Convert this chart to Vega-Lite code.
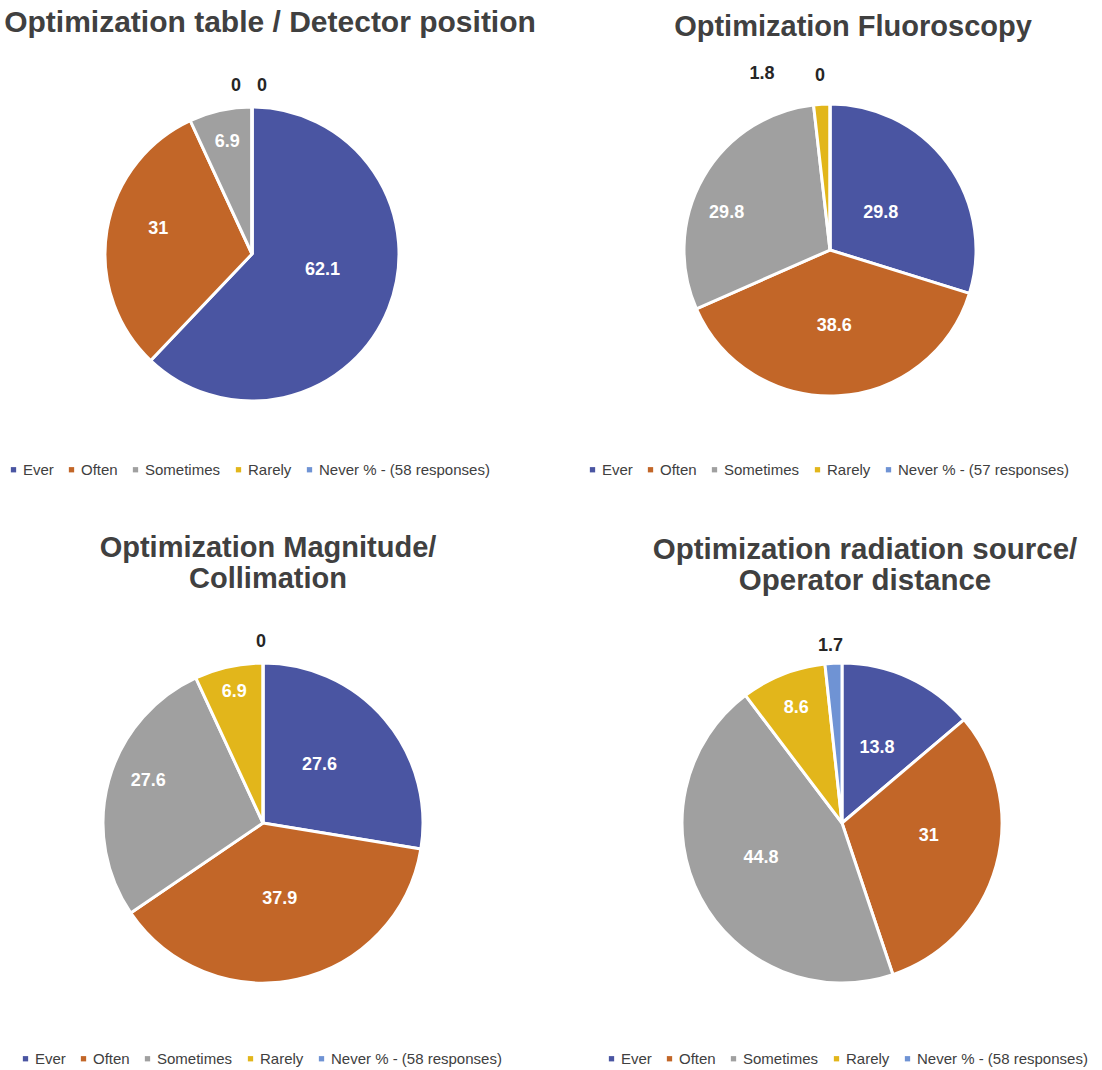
{
  "$schema": "https://vega.github.io/schema/vega-lite/v6.json",
  "background": "white",
  "autosize": {"type": "pad"},
  "padding": {"left": 4, "top": 8, "right": 5, "bottom": 5},
  "config": {
    "view": {"stroke": null},
    "font": "Liberation Sans",
    "title": {"font": "Liberation Sans", "fontSize": 29.5, "fontWeight": "bold", "color": "#404040", "anchor": "middle", "frame": "group", "lineHeight": 31},
    "text": {"font": "Liberation Sans", "fontSize": 18, "fontWeight": "bold"},
    "legend": {"orient": "none", "direction": "horizontal", "title": null, "symbolType": "square", "symbolSize": 28, "labelFontSize": 15, "labelColor": "#404040", "labelFont": "Liberation Sans", "columnPadding": 10, "labelOffset": 2, "labelLimit": 0, "symbolStrokeWidth": 0}
  },
  "bounds": "flush",
  "align": "none",
  "columns": 2,
  "spacing": {"row": 224, "column": 98},
  "resolve": {"scale": {"color": "independent", "theta": "independent"}, "legend": {"color": "independent"}},
  "concat": [
    {
      "width": 480, "height": 330,
      "title": {"text": "Optimization table / Detector position", "dx": 18, "offset": 39, "fontSize": 30},
      "data": {"values": [
        {"c": "Ever", "v": 62.1, "k": 0},
        {"c": "Often", "v": 31, "k": 1},
        {"c": "Sometimes", "v": 6.9, "k": 2},
        {"c": "Rarely", "v": 0, "k": 3},
        {"c": "Never % - (58 responses)", "v": 0, "k": 4}
      ]},
      "encoding": {
        "theta": {"field": "v", "type": "quantitative", "stack": true},
        "order": {"field": "k", "type": "quantitative"},
        "color": {"field": "c", "type": "nominal", "sort": null, "legend": {"legendX": -6, "legendY": 373},
          "scale": {"domain": ["Ever", "Often", "Sometimes", "Rarely", "Never % - (58 responses)"], "range": ["#4A55A2", "#C26628", "#A0A0A0", "#E2B61B", "#6F93D4"]}}
      },
      "layer": [
        {"mark": {"type": "arc", "outerRadius": 147, "stroke": "white", "strokeWidth": 3}},
        {"mark": {"type": "text", "radius": 76, "dy": -12},
          "encoding": {"text": {"condition": {"test": "datum.k == 0", "field": "v", "type": "quantitative"}, "value": ""}, "color": {"value": "white"}}},
        {"mark": {"type": "text", "radius": 95, "dy": -10},
          "encoding": {"text": {"condition": {"test": "datum.k == 1", "field": "v", "type": "quantitative"}, "value": ""}, "color": {"value": "white"}}},
        {"mark": {"type": "text", "radius": 115},
          "encoding": {"text": {"condition": {"test": "datum.k == 2", "field": "v", "type": "quantitative"}, "value": ""}, "color": {"value": "white"}}},
        {"mark": {"type": "text", "radius": 168, "dx": -16},
          "encoding": {"text": {"condition": {"test": "datum.k == 3", "field": "v", "type": "quantitative"}, "value": ""}, "color": {"value": "#262626"}}},
        {"mark": {"type": "text", "radius": 168, "dx": 10},
          "encoding": {"text": {"condition": {"test": "datum.k == 4", "field": "v", "type": "quantitative"}, "value": ""}, "color": {"value": "#262626"}}}
      ]
    },
    {
      "width": 436, "height": 322,
      "title": {"text": "Optimization Fluoroscopy", "dx": 23, "offset": 23, "fontSize": 29},
      "data": {"values": [
        {"c": "Ever", "v": 29.8, "k": 0},
        {"c": "Often", "v": 38.6, "k": 1},
        {"c": "Sometimes", "v": 29.8, "k": 2},
        {"c": "Rarely", "v": 1.8, "k": 3},
        {"c": "Never % - (57 responses)", "v": 0, "k": 4}
      ]},
      "encoding": {
        "theta": {"field": "v", "type": "quantitative", "stack": true},
        "order": {"field": "k", "type": "quantitative"},
        "color": {"field": "c", "type": "nominal", "sort": null, "legend": {"legendX": -27, "legendY": 373},
          "scale": {"domain": ["Ever", "Often", "Sometimes", "Rarely", "Never % - (57 responses)"], "range": ["#4A55A2", "#C26628", "#A0A0A0", "#E2B61B", "#6F93D4"]}}
      },
      "layer": [
        {"mark": {"type": "arc", "outerRadius": 146, "stroke": "white", "strokeWidth": 3}},
        {"mark": {"type": "text", "radius": 63},
          "encoding": {"text": {"condition": {"test": "datum.k == 0", "field": "v", "type": "quantitative"}, "value": ""}, "color": {"value": "white"}}},
        {"mark": {"type": "text", "radius": 76},
          "encoding": {"text": {"condition": {"test": "datum.k == 1", "field": "v", "type": "quantitative"}, "value": ""}, "color": {"value": "white"}}},
        {"mark": {"type": "text", "radius": 110, "dx": -8, "dy": 18},
          "encoding": {"text": {"condition": {"test": "datum.k == 2", "field": "v", "type": "quantitative"}, "value": ""}, "color": {"value": "white"}}},
        {"mark": {"type": "text", "radius": 176, "dx": -58},
          "encoding": {"text": {"condition": {"test": "datum.k == 3", "field": "v", "type": "quantitative"}, "value": ""}, "color": {"value": "#262626"}}},
        {"mark": {"type": "text", "radius": 174, "dx": -10},
          "encoding": {"text": {"condition": {"test": "datum.k == 4", "field": "v", "type": "quantitative"}, "value": ""}, "color": {"value": "#262626"}}}
      ]
    },
    {
      "width": 502, "height": 360,
      "title": {"text": ["Optimization Magnitude/", "Collimation"], "dx": 5, "offset": 39, "fontSize": 29},
      "data": {"values": [
        {"c": "Ever", "v": 27.6, "k": 0},
        {"c": "Often", "v": 37.9, "k": 1},
        {"c": "Sometimes", "v": 27.6, "k": 2},
        {"c": "Rarely", "v": 6.9, "k": 3},
        {"c": "Never % - (58 responses)", "v": 0, "k": 4}
      ]},
      "encoding": {
        "theta": {"field": "v", "type": "quantitative", "stack": true},
        "order": {"field": "k", "type": "quantitative"},
        "color": {"field": "c", "type": "nominal", "sort": null, "legend": {"legendX": 6, "legendY": 408},
          "scale": {"domain": ["Ever", "Often", "Sometimes", "Rarely", "Never % - (58 responses)"], "range": ["#4A55A2", "#C26628", "#A0A0A0", "#E2B61B", "#6F93D4"]}}
      },
      "layer": [
        {"mark": {"type": "arc", "outerRadius": 160, "stroke": "white", "strokeWidth": 3}},
        {"mark": {"type": "text", "radius": 82, "dx": -6, "dy": -5},
          "encoding": {"text": {"condition": {"test": "datum.k == 0", "field": "v", "type": "quantitative"}, "value": ""}, "color": {"value": "white"}}},
        {"mark": {"type": "text", "radius": 78},
          "encoding": {"text": {"condition": {"test": "datum.k == 1", "field": "v", "type": "quantitative"}, "value": ""}, "color": {"value": "white"}}},
        {"mark": {"type": "text", "radius": 119, "dy": -10},
          "encoding": {"text": {"condition": {"test": "datum.k == 2", "field": "v", "type": "quantitative"}, "value": ""}, "color": {"value": "white"}}},
        {"mark": {"type": "text", "radius": 134},
          "encoding": {"text": {"condition": {"test": "datum.k == 3", "field": "v", "type": "quantitative"}, "value": ""}, "color": {"value": "white"}}},
        {"mark": {"type": "text", "radius": 181, "dx": -2},
          "encoding": {"text": {"condition": {"test": "datum.k == 4", "field": "v", "type": "quantitative"}, "value": ""}, "color": {"value": "#262626"}}}
      ]
    },
    {
      "width": 460, "height": 360,
      "title": {"text": ["Optimization radiation source/", "Operator distance"], "dx": 23, "offset": 41, "fontSize": 29.5},
      "data": {"values": [
        {"c": "Ever", "v": 13.8, "k": 0},
        {"c": "Often", "v": 31, "k": 1},
        {"c": "Sometimes", "v": 44.8, "k": 2},
        {"c": "Rarely", "v": 8.6, "k": 3},
        {"c": "Never % - (58 responses)", "v": 1.7, "k": 4}
      ]},
      "encoding": {
        "theta": {"field": "v", "type": "quantitative", "stack": true},
        "order": {"field": "k", "type": "quantitative"},
        "color": {"field": "c", "type": "nominal", "sort": null, "legend": {"legendX": -8, "legendY": 408},
          "scale": {"domain": ["Ever", "Often", "Sometimes", "Rarely", "Never % - (58 responses)"], "range": ["#4A55A2", "#C26628", "#A0A0A0", "#E2B61B", "#6F93D4"]}}
      },
      "layer": [
        {"mark": {"type": "arc", "outerRadius": 160, "stroke": "white", "strokeWidth": 3}},
        {"mark": {"type": "text", "radius": 83},
          "encoding": {"text": {"condition": {"test": "datum.k == 0", "field": "v", "type": "quantitative"}, "value": ""}, "color": {"value": "white"}}},
        {"mark": {"type": "text", "radius": 90, "dy": -11},
          "encoding": {"text": {"condition": {"test": "datum.k == 1", "field": "v", "type": "quantitative"}, "value": ""}, "color": {"value": "white"}}},
        {"mark": {"type": "text", "radius": 87, "dx": -4, "dy": -6},
          "encoding": {"text": {"condition": {"test": "datum.k == 2", "field": "v", "type": "quantitative"}, "value": ""}, "color": {"value": "white"}}},
        {"mark": {"type": "text", "radius": 124},
          "encoding": {"text": {"condition": {"test": "datum.k == 3", "field": "v", "type": "quantitative"}, "value": ""}, "color": {"value": "white"}}},
        {"mark": {"type": "text", "radius": 177, "dx": -2},
          "encoding": {"text": {"condition": {"test": "datum.k == 4", "field": "v", "type": "quantitative"}, "value": ""}, "color": {"value": "#262626"}}}
      ]
    }
  ]
}
